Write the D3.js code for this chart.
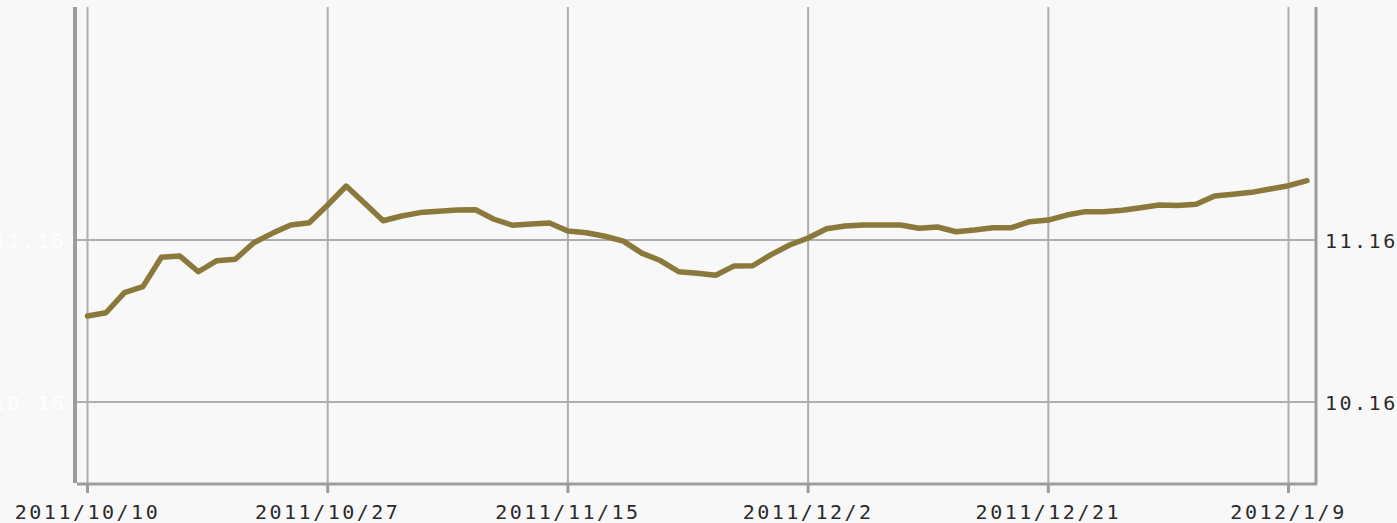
<!DOCTYPE html>
<html>
<head>
<meta charset="utf-8">
<script src="https://cdn.jsdelivr.net/npm/d3@7"></script>
<style>
  html, body { margin: 0; padding: 0; background: #f8f8f8; }
  .tick-label { font-family: 'DejaVu Sans Mono', monospace; font-size: 20px; letter-spacing: 2.5px; }
</style>
</head>
<body>
<div id="chart"></div>
<script>
// Data
const dates = [
  '2011/10/10', '2011/10/11', '2011/10/12', '2011/10/13', '2011/10/14',
  '2011/10/17', '2011/10/18', '2011/10/19', '2011/10/20', '2011/10/21',
  '2011/10/24', '2011/10/25', '2011/10/26', '2011/10/27', '2011/10/28',
  '2011/10/31', '2011/11/1', '2011/11/2', '2011/11/3', '2011/11/4',
  '2011/11/7', '2011/11/8', '2011/11/9', '2011/11/10', '2011/11/11',
  '2011/11/14', '2011/11/15', '2011/11/16', '2011/11/17', '2011/11/18',
  '2011/11/21', '2011/11/22', '2011/11/23', '2011/11/24', '2011/11/25',
  '2011/11/28', '2011/11/29', '2011/11/30', '2011/12/1', '2011/12/2',
  '2011/12/5', '2011/12/6', '2011/12/7', '2011/12/8', '2011/12/9',
  '2011/12/12', '2011/12/13', '2011/12/14', '2011/12/15', '2011/12/16',
  '2011/12/19', '2011/12/20', '2011/12/21', '2011/12/22', '2011/12/23',
  '2011/12/26', '2011/12/27', '2011/12/28', '2011/12/29', '2011/12/30',
  '2012/1/2', '2012/1/3', '2012/1/4', '2012/1/5', '2012/1/6',
  '2012/1/9', '2012/1/10',
];

const values = [
  10.691, 10.711, 10.835, 10.872, 11.053, 11.061, 10.964, 11.032, 11.041, 11.143,
  11.201, 11.253, 11.267, 11.376, 11.493, 11.387, 11.279, 11.308, 11.329, 11.337,
  11.345, 11.347, 11.288, 11.251, 11.259, 11.265, 11.216, 11.205, 11.183, 11.153,
  11.079, 11.033, 10.964, 10.955, 10.942, 11.0, 11.001, 11.07, 11.129, 11.172,
  11.229, 11.246, 11.253, 11.253, 11.253, 11.232, 11.24, 11.211, 11.222, 11.236,
  11.236, 11.273, 11.283, 11.314, 11.335, 11.335, 11.343, 11.359, 11.376, 11.373,
  11.38, 11.432, 11.442, 11.454, 11.475, 11.495, 11.526,
];

const xTickLabels = ['2011/10/10', '2011/10/27', '2011/11/15', '2011/12/2', '2011/12/21', '2012/1/9'];
const yTickValues = [10.16, 11.16];

const width = 1397;
const height = 523;
const plot = {
  l: 75, r: 1316, t: 7, b: 484,
};

const data = dates.map((d, i) => ({ date: d, value: values[i] }));

// Scales
const xScale = d3.scalePoint().domain(dates).range([87.5, 1307]);
const yScale = d3.scaleLinear().domain([9.654, 12.598]).range([plot.b, plot.t]);

const svg = d3
  .select('#chart')
  .append('svg')
  .attr('width', width)
  .attr('height', height)
  .style('display', 'block')
  .style('background', '#f8f8f8');

// grid lines
const grid = svg.append('g').attr('stroke', '#aeaeae').attr('stroke-width', 2);
grid
  .selectAll('line.v')
  .data(xTickLabels)
  .join('line')
  .attr('class', 'v')
  .attr('x1', (d) => xScale(d))
  .attr('x2', (d) => xScale(d))
  .attr('y1', plot.t)
  .attr('y2', plot.b);
grid
  .selectAll('line.h')
  .data(yTickValues)
  .join('line')
  .attr('class', 'h')
  .attr('x1', plot.l)
  .attr('x2', plot.r)
  .attr('y1', (d) => yScale(d))
  .attr('y2', (d) => yScale(d));

// frame (left, right, bottom)
const frame = svg.append('g').attr('stroke', '#9c9c9c');
frame.append('line').attr('x1', plot.l).attr('x2', plot.l).attr('y1', plot.t).attr('y2', plot.b - 1)
  .attr('stroke-width', 4);
frame.append('line').attr('x1', plot.r).attr('x2', plot.r).attr('y1', plot.t).attr('y2', plot.b)
  .attr('stroke-width', 3);
frame.append('line').attr('x1', plot.l + 2).attr('x2', plot.r + 1).attr('y1', plot.b).attr('y2', plot.b)
  .attr('stroke-width', 3);

// x ticks and labels
const xAxis = svg.append('g');
xAxis
  .selectAll('line')
  .data(xTickLabels)
  .join('line')
  .attr('x1', (d) => xScale(d))
  .attr('x2', (d) => xScale(d))
  .attr('y1', plot.b)
  .attr('y2', plot.b + 9)
  .attr('stroke', '#9c9c9c')
  .attr('stroke-width', 3);
xAxis
  .selectAll('text')
  .data(xTickLabels)
  .join('text')
  .attr('class', 'tick-label')
  .attr('x', (d) => xScale(d))
  .attr('y', 519)
  .attr('text-anchor', 'middle')
  .attr('fill', '#2a2a2a')
  .text((d) => d);

// right y labels
svg
  .append('g')
  .selectAll('text')
  .data(yTickValues)
  .join('text')
  .attr('class', 'tick-label')
  .attr('x', plot.r + 9)
  .attr('y', (d) => yScale(d) + 8)
  .attr('fill', '#2a2a2a')
  .text((d) => d.toFixed(2));

// left y labels (drawn almost invisible, white on light grey)
svg
  .append('g')
  .selectAll('text')
  .data(yTickValues)
  .join('text')
  .attr('class', 'tick-label')
  .attr('x', 66)
  .attr('y', (d) => yScale(d) + 8)
  .attr('text-anchor', 'end')
  .attr('fill', '#ffffff')
  .text((d) => d.toFixed(2));

// the line
const line = d3
  .line()
  .x((d) => xScale(d.date))
  .y((d) => yScale(d.value));

svg
  .append('path')
  .datum(data)
  .attr('fill', 'none')
  .attr('stroke', '#8b793b')
  .attr('stroke-width', 5.5)
  .attr('stroke-linejoin', 'round')
  .attr('stroke-linecap', 'round')
  .attr('d', line);
</script>
</body>
</html>
